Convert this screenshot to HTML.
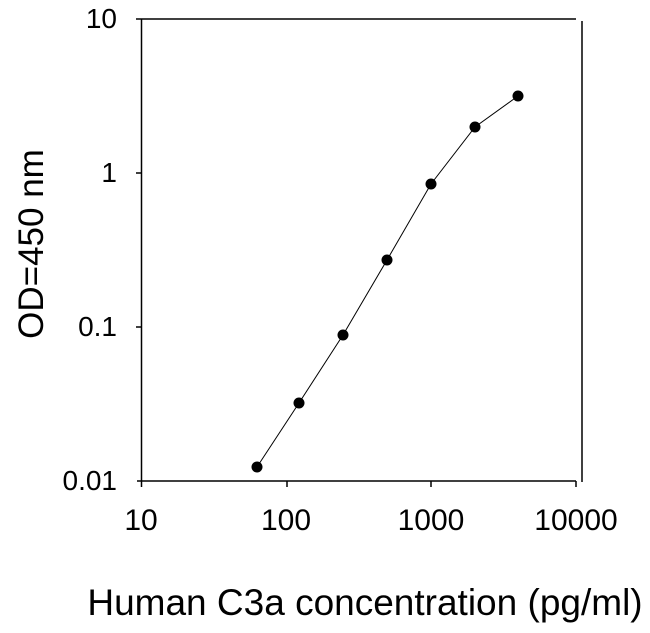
<!DOCTYPE html>
<html><head><style>body{margin:0;background:#fff}</style></head><body>
<svg width="650" height="628" xmlns="http://www.w3.org/2000/svg" font-family="Liberation Sans, sans-serif" fill="#000">
<rect width="650" height="628" fill="#fff"/>
<g stroke="#000" stroke-width="1.5" fill="none">
<line x1="141.5" y1="19" x2="141.5" y2="481"/>
<line x1="137" y1="481" x2="576" y2="481"/>
<line x1="141.5" y1="19" x2="576" y2="19"/>
<line x1="582" y1="21" x2="582" y2="482"/>
<line x1="136" y1="19" x2="141.5" y2="19"/>
<line x1="136" y1="173" x2="141.5" y2="173"/>
<line x1="136" y1="327" x2="141.5" y2="327"/>
<line x1="141.5" y1="481" x2="141.5" y2="487"/>
<line x1="287" y1="481" x2="287" y2="487"/>
<line x1="431" y1="481" x2="431" y2="487"/>
<line x1="576" y1="481" x2="576" y2="487"/>
</g>
<polyline points="257,467 299,403 343,335 387,260 431,184 475,127 518,96" stroke="#000" stroke-width="1" fill="none"/>
<g>
<circle cx="257" cy="467" r="5.5"/><circle cx="299" cy="403" r="5.5"/><circle cx="343" cy="335" r="5.5"/>
<circle cx="387" cy="260" r="5.5"/><circle cx="431" cy="184" r="5.5"/><circle cx="475" cy="127" r="5.5"/><circle cx="518" cy="96" r="5.5"/>
</g>
<g font-size="28" text-anchor="end">
<text x="117" y="28">10</text>
<text x="117" y="182">1</text>
<text x="117" y="336">0.1</text>
<text x="117" y="490">0.01</text>
</g>
<g font-size="30" text-anchor="middle">
<text x="141" y="530">10</text>
<text x="286" y="530">100</text>
<text x="431" y="530">1000</text>
<text x="576" y="530">10000</text>
</g>
<text x="365" y="615" font-size="37" text-anchor="middle">Human C3a concentration (pg/ml)</text>
<text transform="translate(43,244) rotate(-90)" font-size="35" text-anchor="middle">OD=450 nm</text>
</svg>
</body></html>
